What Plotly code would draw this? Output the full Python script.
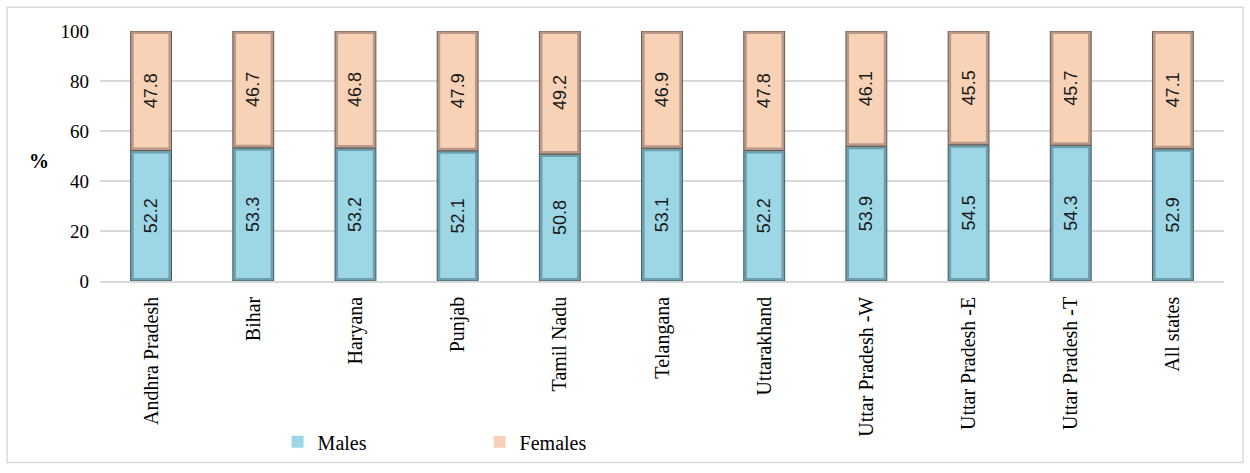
import plotly.graph_objects as go

states = ["Andhra Pradesh", "Bihar", "Haryana", "Punjab", "Tamil Nadu", "Telangana",
          "Uttarakhand", "Uttar Pradesh -W", "Uttar Pradesh -E", "Uttar Pradesh -T", "All states"]
males = [52.2, 53.3, 53.2, 52.1, 50.8, 53.1, 52.2, 53.9, 54.5, 54.3, 52.9]
females = [47.8, 46.7, 46.8, 47.9, 49.2, 46.9, 47.8, 46.1, 45.5, 45.7, 47.1]
y_ticks = [0, 20, 40, 60, 80, 100]

W, H = 1250, 473
ML, MR, MT, MB = 100, 26, 31, 190
SERIF = "Liberation Serif, Times New Roman, serif"

BAR_W, FACE_W = 0.4, 0.34   # outer (bevel edge) and inner face widths, in category units
INSET = 1.2                 # vertical bevel inset, in axis units

fig = go.Figure()

# bevel edges: full stacked segments in a deeper shade
fig.add_trace(go.Bar(x=states, y=males, base=[0] * len(states), width=BAR_W,
                     marker=dict(color="#6f9fac", line=dict(color="#3e5f68", width=1)),
                     showlegend=False, hoverinfo="skip"))
fig.add_trace(go.Bar(x=states, y=females, base=males, width=BAR_W,
                     marker=dict(color="#b8998a", line=dict(color="#6e5a4d", width=1)),
                     showlegend=False, hoverinfo="skip"))

# lighter faces on top, carrying the value labels
label_font = dict(family="Liberation Sans, Arial, sans-serif", size=18, color="#1a1a1a")
fig.add_trace(go.Bar(
    x=states, y=[m - 2 * INSET for m in males], base=[INSET] * len(states), width=FACE_W,
    name="Males", marker=dict(color="#9dd7e6", line=dict(width=0)),
    text=[f"{v:.1f}" for v in males], textposition="inside", insidetextanchor="middle",
    textangle=-90, textfont=label_font, hovertext=[f"{v:.1f}" for v in males], hoverinfo="x+text",
))
fig.add_trace(go.Bar(
    x=states, y=[f - 2 * INSET for f in females], base=[m + INSET for m in males], width=FACE_W,
    name="Females", marker=dict(color="#f8d2b6", line=dict(width=0)),
    text=[f"{v:.1f}" for v in females], textposition="inside", insidetextanchor="middle",
    textangle=-90, textfont=label_font, hovertext=[f"{v:.1f}" for v in females], hoverinfo="x+text",
))

fig.update_layout(
    width=W, height=H,
    barmode="overlay",
    margin=dict(l=ML, r=MR, t=MT, b=MB),
    paper_bgcolor="white", plot_bgcolor="white",
    font=dict(family=SERIF, size=20, color="black"),
    showlegend=True,
    legend=dict(orientation="h", x=0.158, xanchor="left", y=-0.643, yanchor="middle",
                font=dict(family=SERIF, size=20, color="black"), traceorder="normal",
                itemwidth=30, entrywidth=157, bgcolor="rgba(0,0,0,0)"),
    annotations=[dict(text="<b>%</b>", x=(27 - ML) / (W - ML - MR), y=0.48,
                      xref="paper", yref="paper", showarrow=False,
                      font=dict(family=SERIF, size=20, color="black"))],
    shapes=[dict(type="rect", xref="paper", yref="paper",
                 x0=(7 - ML) / (W - ML - MR), x1=(1243 - ML) / (W - ML - MR),
                 y0=(H - MB - 466) / (H - MT - MB), y1=(H - MB - 7) / (H - MT - MB),
                 line=dict(color="#d9d9d9", width=1.5))],
)
fig.update_xaxes(tickangle=-90, tickfont=dict(family=SERIF, size=20, color="black"),
                 showline=True, linecolor="#d9d9d9", linewidth=1.5, ticks="", ticklen=0,
                 ticklabelstandoff=6)
fig.update_yaxes(range=[0, 100], tickvals=y_ticks, showgrid=True, gridcolor="#d9d9d9",
                 gridwidth=1.5, zeroline=False, ticks="", ticklabelstandoff=10,
                 tickfont=dict(family=SERIF, size=19, color="black"))

fig.write_html("out.html")
